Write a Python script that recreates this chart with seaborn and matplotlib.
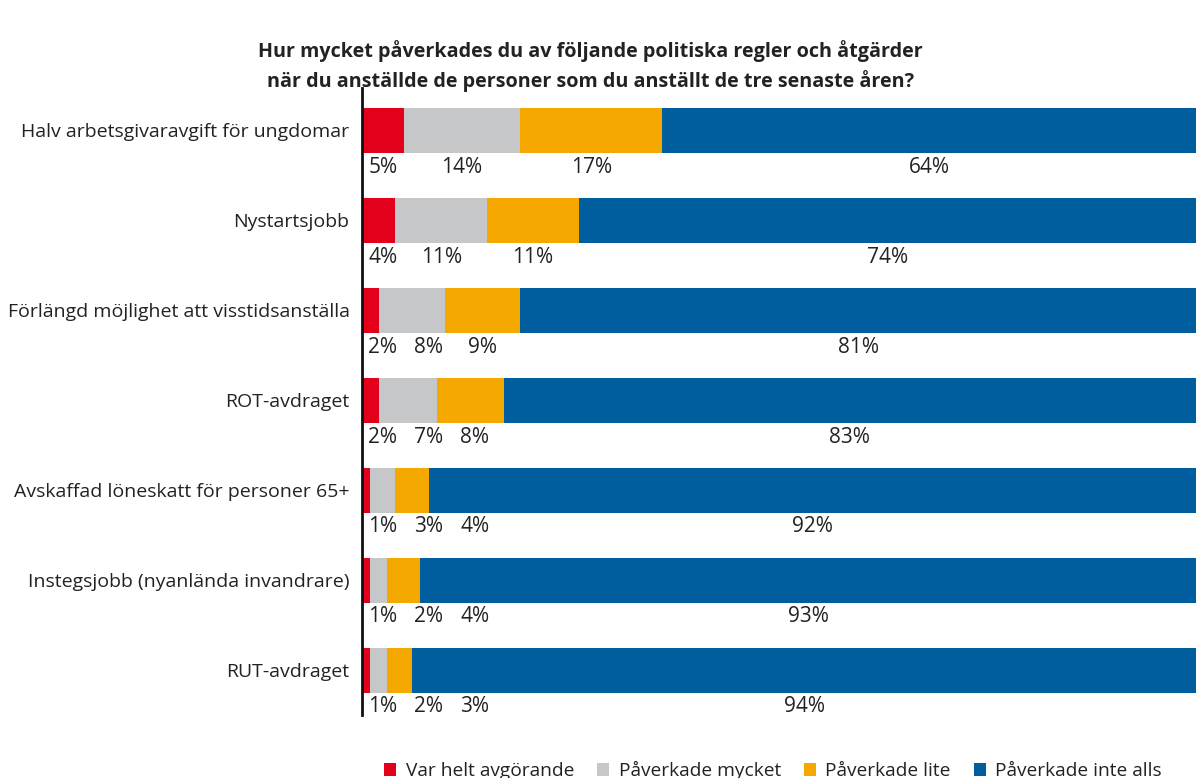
import numpy as np
import pandas as pd
import matplotlib
matplotlib.use("Agg")
import matplotlib.pyplot as plt
import seaborn as sns
from matplotlib.patches import Patch

categories = [
    "Halv arbetsgivaravgift för ungdomar",
    "Nystartsjobb",
    "Förlängd möjlighet att visstidsanställa",
    "ROT-avdraget",
    "Avskaffad löneskatt för personer 65+",
    "Instegsjobb (nyanlända invandrare)",
    "RUT-avdraget",
]
series = ["Var helt avgörande", "Påverkade mycket", "Påverkade lite", "Påverkade inte alls"]
avgorande = [5, 4, 2, 2, 1, 1, 1]
mycket = [14, 11, 8, 7, 3, 2, 2]
lite = [17, 11, 9, 8, 4, 4, 3]
inte_alls = [64, 74, 81, 83, 92, 93, 94]

colors = ["#E2001A", "#C6C7C8", "#F5A800", "#005E9E"]
TEXT = "#222222"

sns.set_style("white")
plt.rcParams["font.family"] = ["Open Sans", "DejaVu Sans"]

values = np.array([avgorande, mycket, lite, inte_alls], dtype=float)
cum = values.cumsum(axis=0)

fig = plt.figure(figsize=(11.96, 7.78), dpi=100)
ax = fig.add_axes([362 / 1196, 1 - 715 / 778, 1 - 362 / 1196, (715 - 88) / 778])

# layered cumulative bars, widest first
for i in range(3, -1, -1):
    df = pd.DataFrame({"cat": categories, "val": cum[i]})
    sns.barplot(data=df, x="val", y="cat", color=colors[i], width=0.5,
                saturation=1, linewidth=0, ax=ax, orient="h")

ax.set_xlim(0, 100)
ax.set_ylim(6.5, -0.47)
ax.set_xlabel("")
ax.set_ylabel("")
ax.set_xticks([])
ax.tick_params(axis="y", length=0, pad=9, labelsize=14, labelcolor=TEXT)
for s in ["top", "right", "bottom"]:
    ax.spines[s].set_visible(False)
ax.spines["left"].set_color("#111111")
ax.spines["left"].set_linewidth(2)

# value labels under each segment, pushed apart when segments are narrow
min_gap = 5.5
min_x = 2.5
for r in range(len(categories)):
    prev = None
    for i in range(4):
        start = cum[i][r] - values[i][r]
        x = start + values[i][r] / 2
        if prev is None:
            x = max(x, min_x)
        else:
            x = max(x, prev + min_gap)
        prev = x
        ax.text(x, r + 0.41, f"{int(values[i][r])}%", ha="center", va="center",
                fontsize=15, color=TEXT)

fig.text(0.494, 0.948, "Hur mycket påverkades du av följande politiska regler och åtgärder\n"
         "när du anställde de personer som du anställt de tre senaste åren?",
         ha="center", va="top", fontsize=14.2, fontweight="bold", color=TEXT,
         linespacing=1.45)

handles = [Patch(facecolor=c, edgecolor="none") for c in colors]
fig.legend(handles, series, loc="upper center", bbox_to_anchor=(773 / 1196, 1 - 744 / 778),
           ncol=4, frameon=False, fontsize=13.8, handlelength=0.62, handleheight=0.62,
           handletextpad=0.5, columnspacing=1.2, labelcolor=TEXT)

fig.savefig("out.png", dpi=100)
